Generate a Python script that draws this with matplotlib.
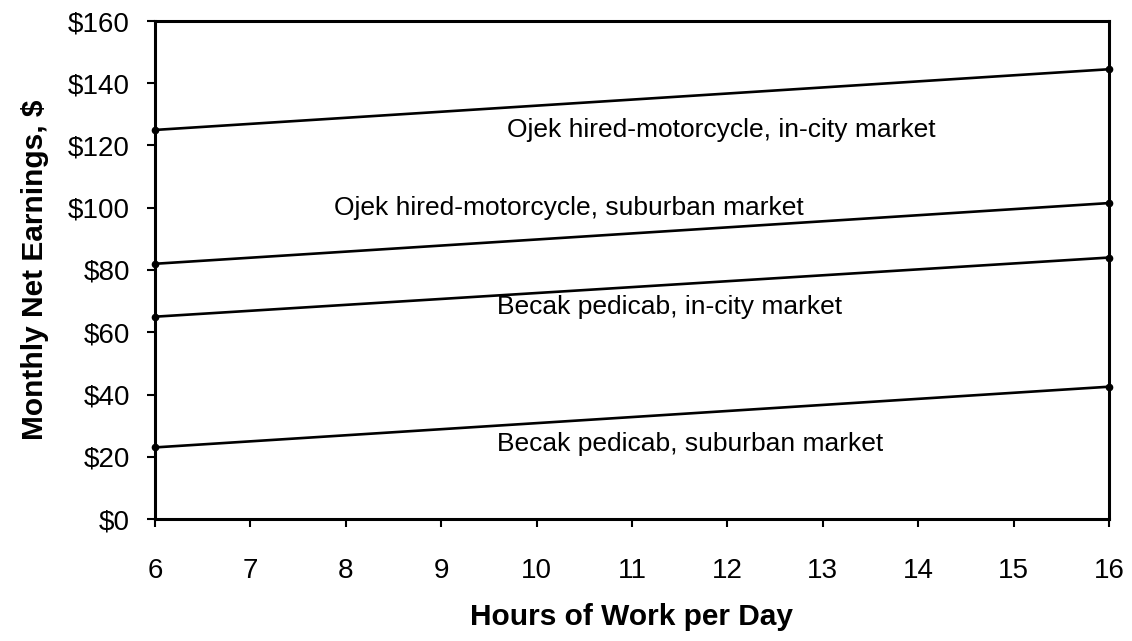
import matplotlib
matplotlib.use('Agg')
import matplotlib.pyplot as plt

plt.rcParams['font.family'] = ['Liberation Sans', 'DejaVu Sans']

# Data
hours = [6, 16]
ojek_city = [125, 144.5]
ojek_suburb = [82, 101.5]
becak_city = [65, 84]
becak_suburb = [23, 42.5]

labels = ['Ojek hired-motorcycle, in-city market',
          'Ojek hired-motorcycle, suburban market',
          'Becak pedicab, in-city market',
          'Becak pedicab, suburban market']
series = [ojek_city, ojek_suburb, becak_city, becak_suburb]
label_pos = [(9.69, 125), (7.88, 100), (9.58, 68), (9.58, 24)]

y_ticks = [0, 20, 40, 60, 80, 100, 120, 140, 160]
x_ticks = list(range(6, 17))

fig = plt.figure(figsize=(11.32, 6.41), dpi=100)
ax = fig.add_axes([155 / 1132, 1 - 519 / 641, 954 / 1132, 498 / 641])

for vals in series:
    ax.plot(hours, vals, color='black', lw=1.9, marker='o', ms=4.5,
            clip_on=False, zorder=3)

for text, (x, y) in zip(labels, label_pos):
    ax.text(x, y, text, ha='left', va='center', fontsize=19)

ax.set_xlim(6, 16)
ax.set_ylim(0, 160)
ax.set_xticks(x_ticks)
ax.set_yticks(y_ticks)
ax.set_yticklabels(['$%d' % v for v in y_ticks])
ax.tick_params(axis='both', direction='out', length=6, width=1.5,
               labelsize=20, colors='black')
ax.tick_params(axis='x', pad=22)
ax.tick_params(axis='y', pad=12)

for sp in ax.spines.values():
    sp.set_linewidth(2.2)
    sp.set_color('black')

ax.set_xlabel('Hours of Work per Day', fontsize=21.5, fontweight='bold',
              labelpad=14)
ax.set_ylabel('Monthly Net Earnings, $', fontsize=21.5, fontweight='bold',
              labelpad=14)

fig.savefig('out.png', dpi=100, facecolor='white')
